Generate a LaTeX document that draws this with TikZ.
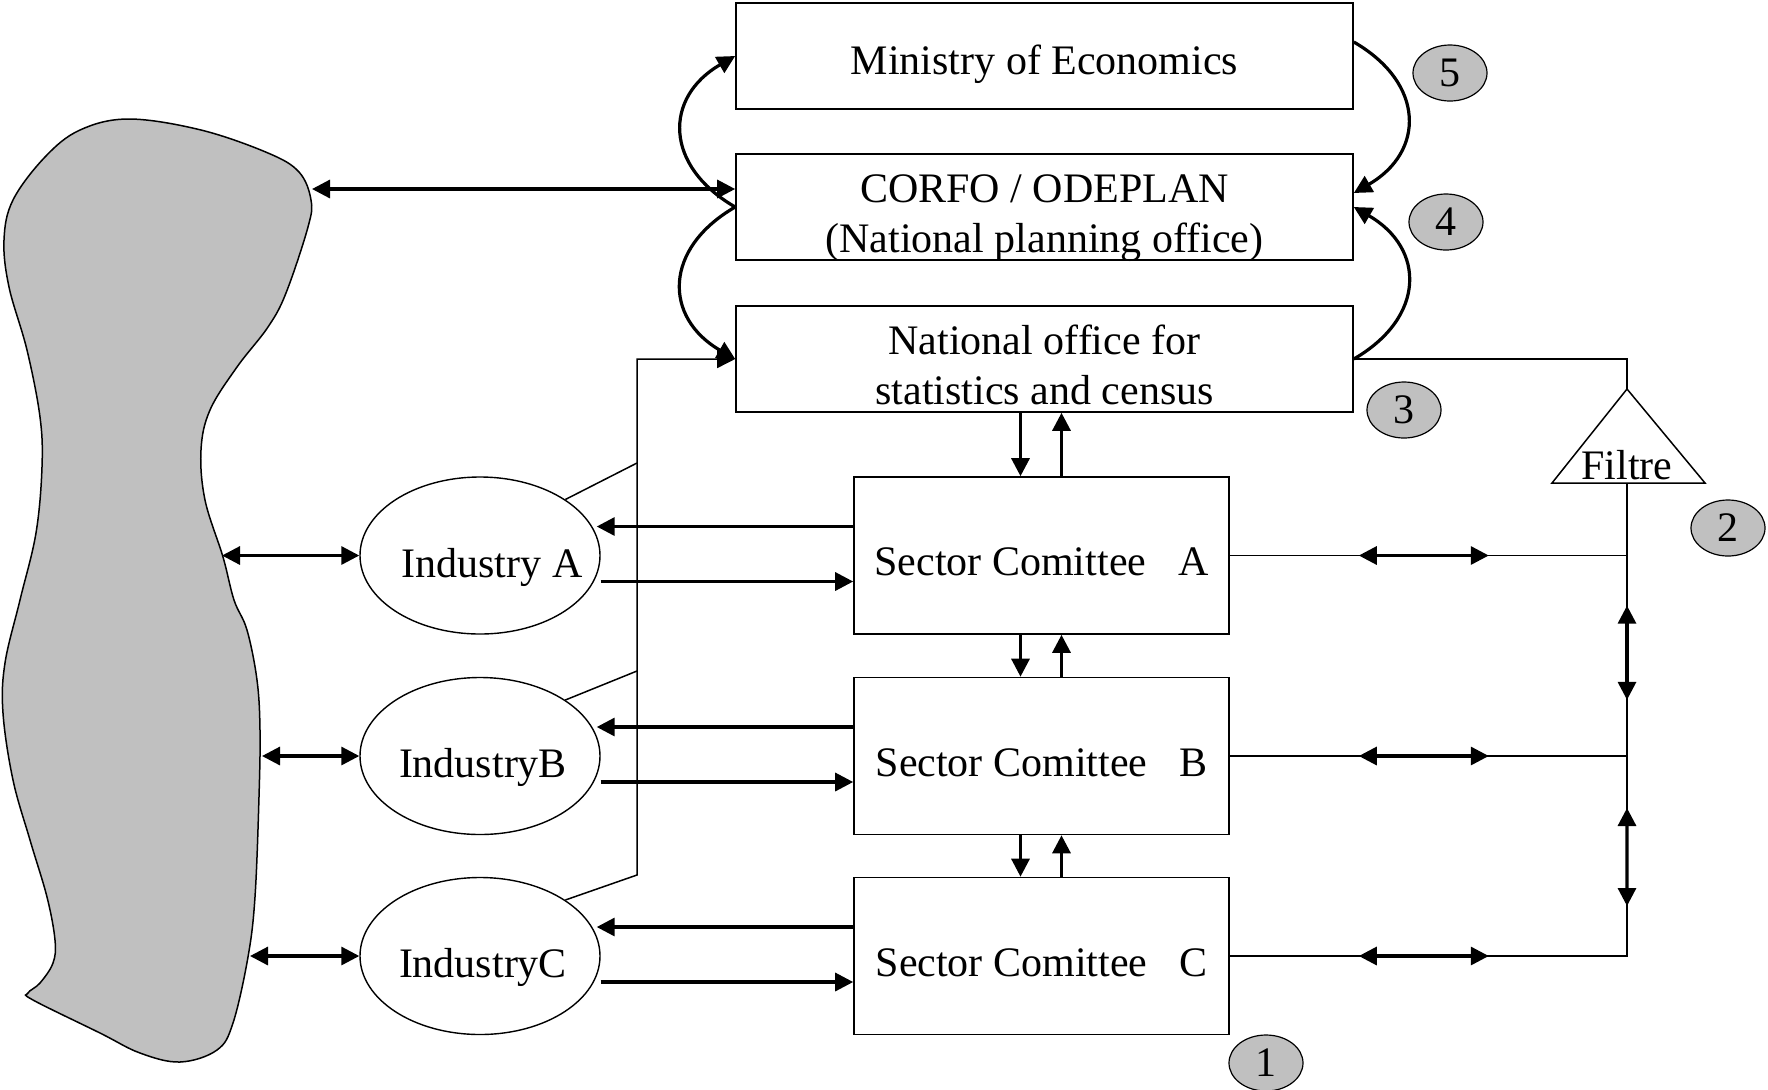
\documentclass[tikz,border=0pt]{standalone}
\usepackage{fontspec}
\setmainfont{Liberation Serif}
\usetikzlibrary{arrows.meta,calc,shapes.geometric}
\definecolor{blobgray}{HTML}{C0C0C0}
% strut that pushes a line of node text down
\newcommand{\tdrop}[1]{\rule{0pt}{#1}}

\begin{document}
\begin{tikzpicture}[x=0.5pt,y=-0.5pt,
	every node/.style={font=\fontsize{21}{25}\selectfont},
	box/.style={draw,line width=0.8pt,minimum width=308.5pt,minimum height=53pt,align=center,inner xsep=0pt,inner ysep=-4pt},
	sec/.style={draw,line width=0.8pt,minimum width=187.5pt,minimum height=78.5pt,inner sep=0pt},
	ind/.style={draw,ellipse,line width=0.7pt,minimum width=120pt,minimum height=78.5pt,inner xsep=-16pt,inner ysep=0pt},
	num/.style={draw,ellipse,fill=blobgray,line width=0.6pt,minimum width=37pt,minimum height=28pt,inner sep=0pt},
	arr/.style={-{Triangle[length=9pt,width=9pt]},line width=1.6pt},
	darr/.style={{Triangle[length=9pt,width=9pt]}-{Triangle[length=9pt,width=9pt]},line width=1.6pt},
	conn/.style={line width=0.75pt}
	]
	\useasboundingbox (0,0) rectangle (1768,1089);
	% the population
	\draw[line width=0.75pt,fill=blobgray] plot[smooth cycle,tension=0.6] coordinates {(129,119) (201,130) (268,153) (299,172) (311,200) (308,227) (286,293) (268,327) (237,367) (210,410) (201,450) (205,500) (223,557) (234,600) (247,630) (257,680) (260,730) (259,797) (255,897) (248,957) (233,1023) (217,1050) (180,1062) (140,1053) (100,1033) (33,1000) (28,993) (40,983) (53,963) (55,940) (47,897) (30,840) (13,780) (3,713) (5,663) (20,600) (36,533) (42,467) (40,417) (27,350) (9,287) (4,240) (13,200) (45,157) (80,130)};
	\coordinate (bCorfo) at (312,189);
	\coordinate (bA) at (222,555.5);
	\coordinate (bB) at (262,756);
	\coordinate (bC) at (250,956);

	\node[box] (min) at (1044.5,56) {\tdrop{23.3pt}Ministry of Economics};
	\node[box] (corfo) at (1044.5,207) {\tdrop{25.5pt}CORFO / ODEPLAN\\(National planning office)};
	\node[box] (nos) at (1044.5,359) {\tdrop{20.3pt}National office for\\statistics and census};

	\node[sec] (secA) at (1041.5,555.5) {\tdrop{20.3pt}Sector Comittee\hspace{0.76em}A};
	\node[sec] (secB) at (1041.5,756) {\tdrop{20.3pt}Sector Comittee\hspace{0.76em}B};
	\node[sec] (secC) at (1041.5,956) {\tdrop{20.3pt}Sector Comittee\hspace{0.76em}C};

	\node[ind] (indA) at (480,555.5) {\hspace{12pt}\tdrop{26.3pt}Industry A};
	\node[ind] (indB) at (480,756) {\hspace{3pt}\tdrop{26.3pt}IndustryB};
	\node[ind] (indC) at (480,956) {\hspace{3pt}\tdrop{26.3pt}IndustryC};

	% filter
	\coordinate (fTop) at (1627,389);
	\coordinate (fBase) at (1627,483);
	\draw[conn] (1552,483) -- (fTop) -- (1705,483) -- cycle;
	\node[anchor=base] (filtre) at (1627,479) {Filtre};

	\node[num] (n5) at (1450,73) {5};
	\node[num] (n4) at (1446,222) {4};
	\node[num] (n3) at (1404,410) {3};
	\node[num] (n2) at (1728,528) {2};
	\node[num] (n1) at (1266,1063) {1};

	% top level
	\draw[arr] (corfo.west) to[bend left=60,looseness=1.4] (min.west);
	\draw[arr] (corfo.west) to[bend right=60,looseness=1.4] (nos.west);
	\draw[arr] ([yshift=7pt]min.east) to[bend left=60,looseness=1.4] ([yshift=7pt]corfo.east);
	\draw[arr] (nos.east) to[bend right=60,looseness=1.4] (corfo.east);
	\draw[darr] (bCorfo) -- ([yshift=9pt]corfo.west);

	% population -- industries
	\draw[darr] (bA) -- (indA.west);
	\draw[darr] (bB) -- (indB.west);
	\draw[darr] (bC) -- (indC.west);

	% sectors -- industries
	\foreach \s/\i in {secA/indA,secB/indB,secC/indC} {
		\draw[arr] ([yshift=14.5pt]\s.west) -- ([xshift=-2pt,yshift=14.5pt]\i.east);
		\draw[arr] ([yshift=-13pt]\i.east) -- ([yshift=-13pt]\s.west);
	}
	\foreach \u/\l in {nos/secA,secA/secB,secB/secC} {
		\draw[arr] ([xshift=-10.5pt]\l.north |- \u.south) -- ([xshift=-10.5pt]\l.north);
		\draw[arr] ([xshift=10pt]\l.north) -- ([xshift=10pt]\l.north |- \u.south);
	}

	% industries -- statistics office
	\coordinate (jA) at (637,463);
	\coordinate (jB) at (637,671);
	\coordinate (jC) at (637,875);
	\draw[conn] (indA.north east) -- (jA);
	\draw[conn] (indB.north east) -- (jB);
	\draw[conn,-{Triangle[length=9pt,width=9pt]}] (indC.north east) -- (jC) -- (jC |- nos.west) -- (nos.west);

	% sectors -- filter
	\coordinate (fA) at (secA.east -| fBase);
	\coordinate (fB) at (secB.east -| fBase);
	\coordinate (fC) at (secC.east -| fBase);
	\draw[conn] (nos.east) -- (nos.east -| fTop) -- (fTop);
	\draw[conn] (fBase) -- (fC) -- (secC.east);
	\draw[conn] (secA.east) -- (fA);
	\draw[conn] (secB.east) -- (fB);
	\foreach \s in {secA,secB,secC}
		\draw[darr] ([xshift=64.5pt]\s.east) -- ([xshift=129.5pt]\s.east);
	\draw[darr] ($(fA)!0.25!(fB)$) -- ($(fA)!0.72!(fB)$);
	\draw[darr] ($(fB)!0.26!(fC)$) -- ($(fB)!0.75!(fC)$);
\end{tikzpicture}
\end{document}
